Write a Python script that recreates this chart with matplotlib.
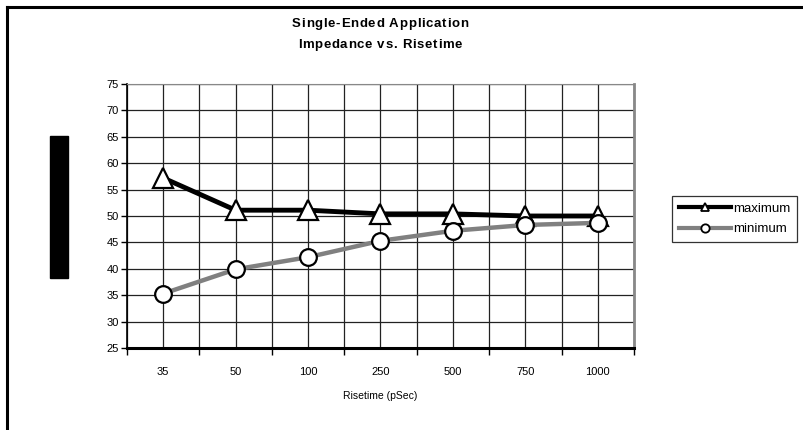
import matplotlib
matplotlib.use('Agg')
import matplotlib.pyplot as plt
from matplotlib.lines import Line2D
from matplotlib.patches import Rectangle

plt.rcParams['font.family'] = ['Liberation Sans', 'DejaVu Sans']

# data
risetime = ['35', '50', '100', '250', '500', '750', '1000']
maximum = [57.2, 51.1, 51.1, 50.4, 50.4, 50.0, 50.0]
minimum = [35.3, 39.9, 42.2, 45.3, 47.2, 48.3, 48.7]
y_ticks = [25, 30, 35, 40, 45, 50, 55, 60, 65, 70, 75]

W, H = 804, 430
fig = plt.figure(figsize=(W / 100, H / 100), dpi=100)


def spaced_text(x, y, s, spacing, **kw):
    # draw a string char by char with extra letter spacing (pixels), centred at x
    r = fig.canvas.get_renderer()
    widths = []
    for ch in s:
        t = fig.text(0, 0, ch.replace(' ', '\u00a0'), **kw)
        widths.append(t.get_window_extent(r).width)
        t.remove()
    total = sum(widths) + spacing * (len(s) - 1)
    cx = x - total / 2
    for ch, w in zip(s, widths):
        fig.text(cx / W, 1 - y / H, ch, ha='left', va='center', **kw)
        cx += w + spacing


ax = fig.add_axes([127 / W, 1 - 348 / H, (634 - 127) / W, (348 - 84) / H])
xs = list(range(len(risetime)))
ax.plot(xs, maximum, color='black', lw=3.5, marker='^', ms=14,
        mfc='white', mec='black', mew=1.6, zorder=3, clip_on=False)
ax.plot(xs, minimum, color='#808080', lw=3.2, marker='o', ms=12,
        mfc='white', mec='black', mew=1.6, zorder=4, clip_on=False)

ax.set_xlim(-0.5, len(risetime) - 0.5)
ax.set_ylim(25, 75)
ax.set_yticks(y_ticks)
ax.set_xticks(xs)
ax.set_xticklabels(risetime)
ax.set_xticks([i - 0.5 for i in range(len(risetime) + 1)], minor=True)
ax.tick_params(axis='x', which='major', length=0, pad=14, labelsize=8)
ax.tick_params(axis='x', which='minor', length=5, width=1, color='black',
               direction='out')
ax.tick_params(axis='y', length=4, width=1, labelsize=8, pad=2)
ax.grid(True, which='both', axis='x', color='#222222', lw=0.9)
ax.grid(True, which='major', axis='y', color='#222222', lw=0.9)
ax.set_axisbelow(True)

ax.spines['bottom'].set_linewidth(2.2)
ax.spines['left'].set_linewidth(1.2)
ax.spines['top'].set_color('#888888')
ax.spines['right'].set_color('#888888')
ax.spines['right'].set_linewidth(2)

ax.set_xlabel('Risetime (pSec)', fontsize=7.5, labelpad=10)

spaced_text(380, 24, 'Single-Ended Application', 0.7, fontsize=9.5,
            fontweight='bold')
spaced_text(380, 45, 'Impedance vs. Risetime', 0.7, fontsize=9.5,
            fontweight='bold')

# legend
handles = [
    Line2D([], [], color='black', lw=3, marker='^', ms=6, mfc='white',
           mec='black', mew=1.3),
    Line2D([], [], color='#808080', lw=3, marker='o', ms=6, mfc='white',
           mec='black', mew=1.3),
]
leg = fig.legend(handles, ['maximum', 'minimum'], loc='center left',
                 bbox_to_anchor=(672 / W, 1 - 219 / H), fontsize=9.5,
                 frameon=True, fancybox=False, edgecolor='black',
                 handlelength=4.0, handletextpad=0.15, borderpad=0.5,
                 labelspacing=0.6, borderaxespad=0)
leg.get_frame().set_linewidth(0.9)

# black block left of the axis
fig.patches.append(Rectangle((50 / W, 1 - 278 / H), 18 / W, 142 / H,
                             transform=fig.transFigure, color='black'))

# chart frame
fig.add_artist(Line2D([7 / W, 7 / W], [0, 1 - 7 / H], color='black', lw=2.2,
                      transform=fig.transFigure))
fig.add_artist(Line2D([7 / W, 1], [1 - 7 / H, 1 - 7 / H], color='black',
                      lw=2.2, transform=fig.transFigure))

fig.savefig('out.png', dpi=100)
